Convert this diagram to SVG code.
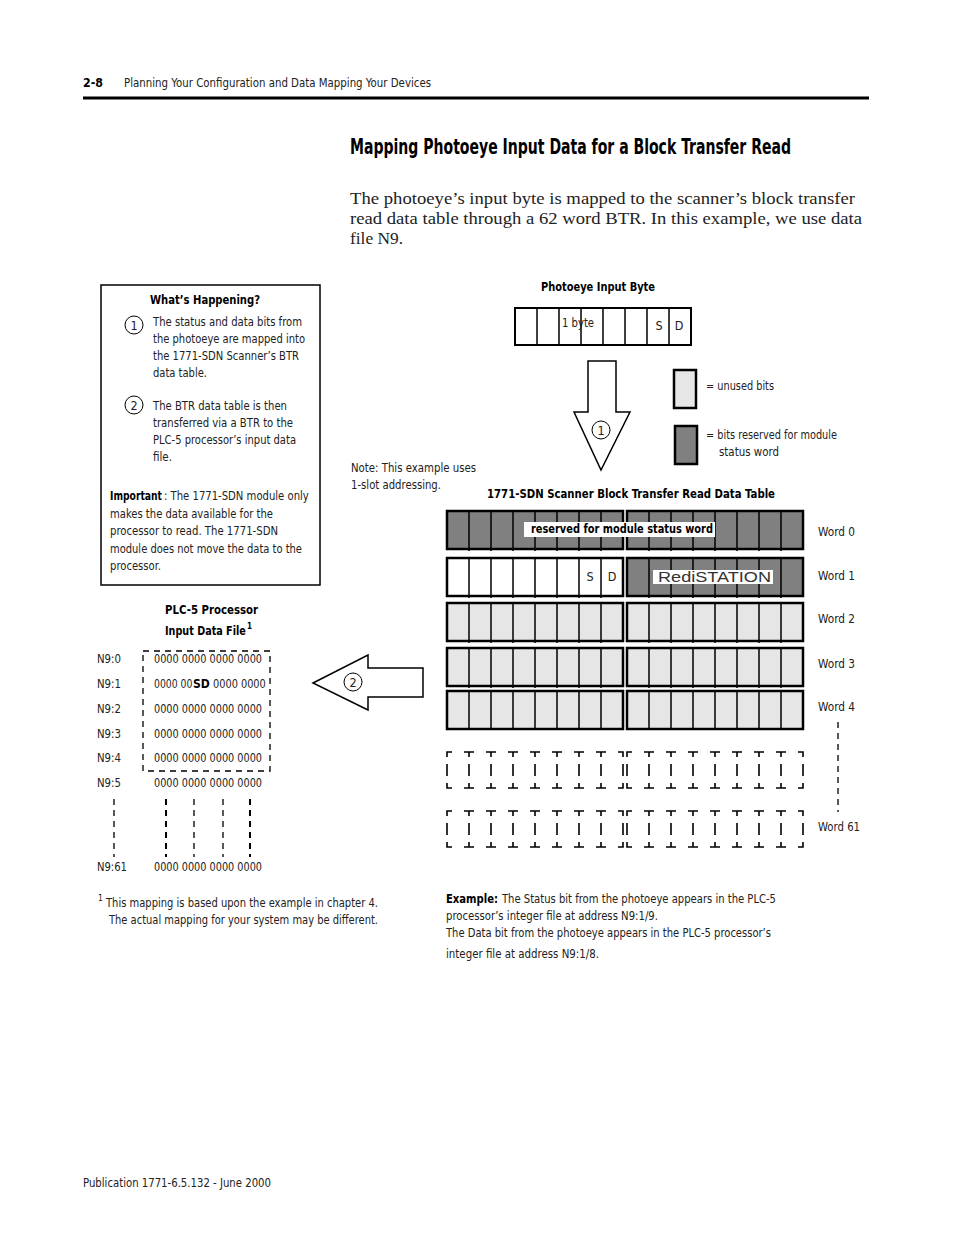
<svg xmlns="http://www.w3.org/2000/svg" xmlns:xlink="http://www.w3.org/1999/xlink" width="954" height="1235" viewBox="0 0 954 1235">
<style>
.t{font-family:"DejaVu Sans Condensed","Liberation Sans",sans-serif;font-size:12.5px;fill:#222}
.b{font-weight:bold;fill:#000}
.s{font-family:"Liberation Serif",serif;font-size:17px;fill:#222}
.ln{fill:none;stroke:#000;stroke-width:1.5}
.out{stroke:#000;stroke-width:2.5}
.dk{fill:#808080}
.lt{fill:#e6e6e6}
.wh{fill:#fff}
.dm{fill:none;stroke:#000;stroke-width:1.6}
.dash{fill:none;stroke:#000;stroke-width:1.3;stroke-dasharray:6,5}
</style>
<defs>
<path id="div" d="M22,0V40M44,0V40M66,0V40M88,0V40M110,0V40M132,0V40M154,0V40" class="ln"/>
<path id="dm" class="dm" d="M0,5V0H5M0,12V24M0,31V36H5M171,0H176V5M176,12V24M171,36H176V31M17,0H27M22,0V5M22,12V24M22,31V36M17,36H27M39,0H49M44,0V5M44,12V24M44,31V36M39,36H49M61,0H71M66,0V5M66,12V24M66,31V36M61,36H71M83,0H93M88,0V5M88,12V24M88,31V36M83,36H93M105,0H115M110,0V5M110,12V24M110,31V36M105,36H115M127,0H137M132,0V5M132,12V24M132,31V36M127,36H137M149,0H159M154,0V5M154,12V24M154,31V36M149,36H159"/>
</defs>
<rect width="954" height="1235" fill="#fff"/>

<g id="header">
<text x="83" y="87" class="t b" textLength="20" lengthAdjust="spacingAndGlyphs">2-8</text>
<text x="124" y="87" class="t" textLength="307" lengthAdjust="spacingAndGlyphs">Planning Your Configuration and Data Mapping Your Devices</text>
<line x1="83" y1="98" x2="869" y2="98" stroke="#000" stroke-width="3"/>
<text x="350" y="154" class="t b" style="font-size:21px" textLength="441" lengthAdjust="spacingAndGlyphs">Mapping Photoeye Input Data for a Block Transfer Read</text>
<text x="350" y="204" class="s" textLength="505" lengthAdjust="spacingAndGlyphs">The photoeye’s input byte is mapped to the scanner’s block transfer</text>
<text x="350" y="224" class="s" textLength="512" lengthAdjust="spacingAndGlyphs">read data table through a 62 word BTR. In this example, we use data</text>
<text x="350" y="244" class="s" textLength="53" lengthAdjust="spacingAndGlyphs">file N9.</text>
</g>

<g id="whats-happening">
<rect x="101" y="285" width="219" height="300" fill="#fff" stroke="#000" stroke-width="1.5"/>
<text x="150" y="304" class="t b" textLength="110" lengthAdjust="spacingAndGlyphs">What’s Happening?</text>
<circle cx="134" cy="325" r="9" fill="none" stroke="#000" stroke-width="1"/>
<text x="134" y="330" class="t" text-anchor="middle">1</text>
<text x="153" y="326" class="t" textLength="149" lengthAdjust="spacingAndGlyphs">The status and data bits from</text>
<text x="153" y="343" class="t" textLength="152" lengthAdjust="spacingAndGlyphs">the photoeye are mapped into</text>
<text x="153" y="360" class="t" textLength="146" lengthAdjust="spacingAndGlyphs">the 1771-SDN Scanner’s BTR</text>
<text x="153" y="377" class="t" textLength="54" lengthAdjust="spacingAndGlyphs">data table.</text>
<circle cx="134" cy="405" r="9" fill="none" stroke="#000" stroke-width="1"/>
<text x="134" y="410" class="t" text-anchor="middle">2</text>
<text x="153" y="410" class="t" textLength="134" lengthAdjust="spacingAndGlyphs">The BTR data table is then</text>
<text x="153" y="427" class="t" textLength="140" lengthAdjust="spacingAndGlyphs">transferred via a BTR to the</text>
<text x="153" y="444" class="t" textLength="143" lengthAdjust="spacingAndGlyphs">PLC-5 processor’s input data</text>
<text x="153" y="461" class="t" textLength="19" lengthAdjust="spacingAndGlyphs">file.</text>
<text transform="matrix(0.8,0,0,1,110,500)" class="t b" textLength="65" lengthAdjust="spacingAndGlyphs">Important</text>
<text transform="matrix(0.8,0,0,1,164,500)" class="t" textLength="181" lengthAdjust="spacingAndGlyphs">: The 1771-SDN module only</text>
<text x="110" y="518" class="t" textLength="163" lengthAdjust="spacingAndGlyphs">makes the data available for the</text>
<text x="110" y="535" class="t" textLength="168" lengthAdjust="spacingAndGlyphs">processor to read. The 1771-SDN</text>
<text x="110" y="553" class="t" textLength="192" lengthAdjust="spacingAndGlyphs">module does not move the data to the</text>
<text x="110" y="570" class="t" textLength="51" lengthAdjust="spacingAndGlyphs">processor.</text>
</g>

<g id="photoeye-byte">
<text x="541" y="291" class="t b" textLength="114" lengthAdjust="spacingAndGlyphs">Photoeye Input Byte</text>
<rect x="515" y="308" width="176" height="37" fill="#fff" stroke="#000" stroke-width="2"/>
<path class="ln" d="M537,308V345M559,308V345M581,308V345M603,308V345M625,308V345M647,308V345M669,308V345"/>
<text x="562" y="327" class="t" textLength="32" lengthAdjust="spacingAndGlyphs">1 byte</text>
<text x="659" y="330" class="t" text-anchor="middle">S</text>
<text x="679" y="330" class="t" text-anchor="middle">D</text>
</g>

<g id="legend">
<rect x="674" y="370" width="22" height="38" class="lt out"/>
<text x="706" y="390" class="t" textLength="68" lengthAdjust="spacingAndGlyphs">= unused bits</text>
<rect x="675" y="426" width="22" height="38" class="dk out"/>
<text x="706" y="439" class="t" textLength="131" lengthAdjust="spacingAndGlyphs">= bits reserved for module</text>
<text x="719" y="456" class="t" textLength="60" lengthAdjust="spacingAndGlyphs">status word</text>
</g>

<g id="note">
<text x="351" y="472" class="t" textLength="125" lengthAdjust="spacingAndGlyphs">Note: This example uses</text>
<text x="351" y="489" class="t" textLength="90" lengthAdjust="spacingAndGlyphs">1-slot addressing.</text>
</g>

<g id="btr-table">
<text x="487" y="498" class="t b" textLength="288" lengthAdjust="spacingAndGlyphs">1771-SDN Scanner Block Transfer Read Data Table</text>
<rect x="447" y="511" width="176" height="38" class="dk out"/>
<rect x="627" y="511" width="176" height="38" class="dk out"/>
<use xlink:href="#div" x="447" y="511"/><use xlink:href="#div" x="627" y="511"/>
<rect x="524" y="522" width="191" height="15" class="wh"/>
<text x="531" y="533" class="t b" textLength="182" lengthAdjust="spacingAndGlyphs">reserved for module status word</text>
<text x="818" y="536" class="t" textLength="37" lengthAdjust="spacingAndGlyphs">Word 0</text>

<rect x="447" y="558" width="176" height="38" class="wh out"/>
<rect x="627" y="558" width="176" height="38" class="dk out"/>
<use xlink:href="#div" x="447" y="558"/><use xlink:href="#div" x="627" y="558"/>
<text x="590" y="581" class="t" text-anchor="middle">S</text>
<text x="612" y="581" class="t" text-anchor="middle">D</text>
<rect x="653" y="570" width="120" height="14" class="wh"/>
<text x="658" y="582" style="font-family:'Liberation Sans',sans-serif;font-size:15px;fill:#333" textLength="113" lengthAdjust="spacingAndGlyphs">RediSTATION</text>
<text x="818" y="580" class="t" textLength="37" lengthAdjust="spacingAndGlyphs">Word 1</text>

<rect x="447" y="603" width="176" height="38" class="lt out"/>
<rect x="627" y="603" width="176" height="38" class="lt out"/>
<use xlink:href="#div" x="447" y="603"/><use xlink:href="#div" x="627" y="603"/>
<text x="818" y="623" class="t" textLength="37" lengthAdjust="spacingAndGlyphs">Word 2</text>

<rect x="447" y="648" width="176" height="38" class="lt out"/>
<rect x="627" y="648" width="176" height="38" class="lt out"/>
<use xlink:href="#div" x="447" y="648"/><use xlink:href="#div" x="627" y="648"/>
<text x="818" y="668" class="t" textLength="37" lengthAdjust="spacingAndGlyphs">Word 3</text>

<rect x="447" y="691" width="176" height="38" class="lt out"/>
<rect x="627" y="691" width="176" height="38" class="lt out"/>
<path class="ln" d="M469,691V729M491,691V729M513,691V729M535,691V729M557,691V729M579,691V729M601,691V729M649,691V729M671,691V729M693,691V729M715,691V729M737,691V729M759,691V729M781,691V729"/>
<text x="818" y="711" class="t" textLength="37" lengthAdjust="spacingAndGlyphs">Word 4</text>

<use xlink:href="#dm" x="447" y="752"/><use xlink:href="#dm" x="627" y="752"/>
<use xlink:href="#dm" x="447" y="811"/><use xlink:href="#dm" x="627" y="811"/>
<line x1="838" y1="722" x2="838" y2="812" class="dash"/>
<text x="818" y="831" class="t" textLength="42" lengthAdjust="spacingAndGlyphs">Word 61</text>
</g>

<g id="connectors">
<path d="M588,361H616V412H630L601,470L574,412H588Z" fill="#fff" stroke="#000" stroke-width="1.5"/>
<circle cx="601" cy="430" r="9" fill="none" stroke="#000" stroke-width="1"/>
<text x="601" y="435" class="t" text-anchor="middle">1</text>
<path d="M313,683L368,655V668H423V697H368V710Z" fill="#fff" stroke="#000" stroke-width="1.5"/>
<circle cx="353" cy="682" r="9" fill="none" stroke="#000" stroke-width="1"/>
<text x="353" y="687" class="t" text-anchor="middle">2</text>
</g>

<g id="plc-file">
<text x="165" y="614" class="t b" textLength="93" lengthAdjust="spacingAndGlyphs">PLC-5 Processor</text>
<text transform="matrix(0.8,0,0,1,165,635)" class="t b" textLength="101" lengthAdjust="spacingAndGlyphs">Input Data File</text>
<text x="247" y="629" class="t b" style="font-size:8px">1</text>
<rect x="143" y="651" width="127" height="120" class="dash" fill="none"/>
<text x="97" y="663" class="t" textLength="24" lengthAdjust="spacingAndGlyphs">N9:0</text><text x="154" y="663" class="t" textLength="108" lengthAdjust="spacingAndGlyphs">0000 0000 0000 0000</text>
<text x="97" y="688" class="t" textLength="24" lengthAdjust="spacingAndGlyphs">N9:1</text>
<text transform="matrix(0.8,0,0,1,154,688)" class="t" textLength="48" lengthAdjust="spacingAndGlyphs">0000 00</text>
<text transform="matrix(0.8,0,0,1,193,688)" class="t b" textLength="21" lengthAdjust="spacingAndGlyphs">SD</text>
<text transform="matrix(0.8,0,0,1,213,688)" class="t" textLength="66" lengthAdjust="spacingAndGlyphs">0000 0000</text>
<text x="97" y="713" class="t" textLength="24" lengthAdjust="spacingAndGlyphs">N9:2</text><text x="154" y="713" class="t" textLength="108" lengthAdjust="spacingAndGlyphs">0000 0000 0000 0000</text>
<text x="97" y="738" class="t" textLength="24" lengthAdjust="spacingAndGlyphs">N9:3</text><text x="154" y="738" class="t" textLength="108" lengthAdjust="spacingAndGlyphs">0000 0000 0000 0000</text>
<text x="97" y="762" class="t" textLength="24" lengthAdjust="spacingAndGlyphs">N9:4</text><text x="154" y="762" class="t" textLength="108" lengthAdjust="spacingAndGlyphs">0000 0000 0000 0000</text>
<text x="97" y="787" class="t" textLength="24" lengthAdjust="spacingAndGlyphs">N9:5</text><text x="154" y="787" class="t" textLength="108" lengthAdjust="spacingAndGlyphs">0000 0000 0000 0000</text>
<path class="dash" d="M114,799V857M194,799V857M223,799V857"/>
<path class="dash" style="stroke-width:2" d="M166,799V857M250,799V857"/>
<text x="97" y="871" class="t" textLength="30" lengthAdjust="spacingAndGlyphs">N9:61</text><text x="154" y="871" class="t" textLength="108" lengthAdjust="spacingAndGlyphs">0000 0000 0000 0000</text>
</g>

<g id="footnote">
<text x="98" y="901" class="t" style="font-size:8.5px">1</text>
<text x="106" y="907" class="t" textLength="272" lengthAdjust="spacingAndGlyphs">This mapping is based upon the example in chapter 4.</text>
<text x="109" y="924" class="t" textLength="269" lengthAdjust="spacingAndGlyphs">The actual mapping for your system may be different.</text>
</g>

<g id="example">
<text x="446" y="903" class="t b" textLength="52" lengthAdjust="spacingAndGlyphs">Example:</text>
<text x="502" y="903" class="t" textLength="274" lengthAdjust="spacingAndGlyphs">The Status bit from the photoeye appears in the PLC-5</text>
<text x="446" y="920" class="t" textLength="212" lengthAdjust="spacingAndGlyphs">processor’s integer file at address N9:1/9.</text>
<text x="446" y="937" class="t" textLength="325" lengthAdjust="spacingAndGlyphs">The Data bit from the photoeye appears in the PLC-5 processor’s</text>
<text x="446" y="958" class="t" textLength="153" lengthAdjust="spacingAndGlyphs">integer file at address N9:1/8.</text>
</g>

<g id="footer">
<text x="83" y="1187" class="t" textLength="188" lengthAdjust="spacingAndGlyphs">Publication 1771-6.5.132 - June 2000</text>
</g>
</svg>
